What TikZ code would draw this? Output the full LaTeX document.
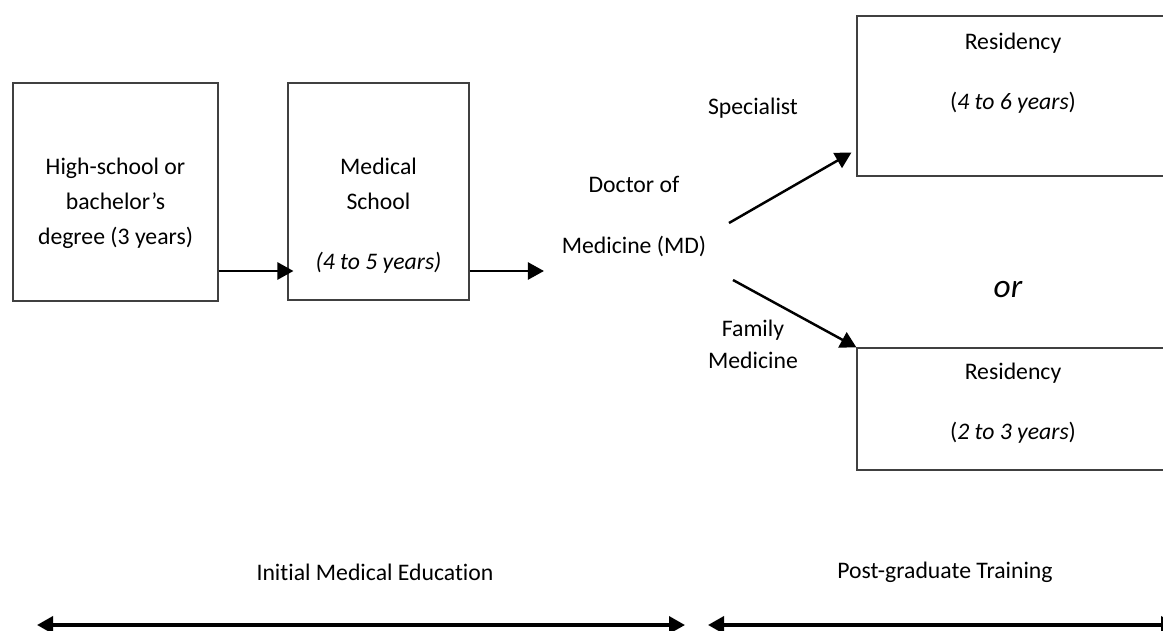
\documentclass[tikz,border=0pt]{standalone}
\usepackage{fontspec}
\setmainfont{Carlito}[Ligatures=NoCommon]
\usetikzlibrary{arrows.meta, positioning}

\begin{document}
\begin{tikzpicture}[
  box/.style={draw=black!75, line width=0.6pt, rectangle, inner sep=0pt},
  txt/.style={align=center, inner sep=0pt, font=\fontsize{13.5}{20}\selectfont},
  arr/.style={line width=1.4pt, -{Triangle[length=0.32cm, width=0.34cm]}},
  span/.style={line width=2pt, {Triangle[length=0.32cm, width=0.34cm]}-{Triangle[length=0.32cm, width=0.34cm]}}
]
\useasboundingbox (0,0) rectangle (23.26,12.6);

% boxes
\node[box, minimum width=4.1cm, minimum height=4.36cm] (hs) at (2.31, 8.76) {};
\node[box, minimum width=3.62cm, minimum height=4.34cm] (med) at (7.57, 8.77) {};
\node[box, minimum width=6.13cm, minimum height=3.2cm] (spec) at (20.205, 10.68) {};
\node[box, minimum width=6.13cm, minimum height=2.44cm] (fam) at (20.205, 4.42) {};

% texts
\node[txt] (hstext) at (2.31, 8.54) {High-school or\\bachelor’s\\degree (3 years)};
\node[txt] (medtext) at (7.57, 8.29) {Medical\\School\\[0.5cm]\textit{(4 to 5 years)}};
\node[txt] (md) at (12.68, 8.27) {Doctor of\\[0.52cm]Medicine (MD)};
\node[txt] (spectext) at (20.26, 11.14) {Residency\\[0.5cm](\textit{4 to 6 years})};
\node[txt] (famtext) at (20.26, 4.54) {Residency\\[0.5cm](\textit{2 to 3 years})};

\node[txt] (speclbl) at (15.06, 10.44) {Specialist};
\node[txt] (famlbl) at (15.06, 5.72) {Family\\[-0.06cm]Medicine};
\node[txt, font=\fontsize{19}{22}\selectfont\itshape] (or) at (20.16, 6.8) {or};

\node[txt] (ime) at (7.5, 1.16) {Initial Medical Education};
\node[txt] (pgt) at (18.9, 1.16) {Post-graduate Training};

% connectors
\coordinate (lvl) at (0, 7.18);
\draw[arr] (hs.east |- lvl) -- ([xshift=0.12cm]med.west |- lvl);
\draw[arr] (med.east |- lvl) -- ([xshift=-0.35cm]md.west |- lvl);
\coordinate (mdup) at (14.58, 8.14);
\coordinate (mddown) at (14.66, 7.0);
\draw[arr] (mdup) -- ([xshift=-0.1cm, yshift=0.48cm]spec.south west);
\draw[arr] (mddown) -- (fam.north west);

% time spans
\coordinate (imeL) at (0.74, 0.1);
\coordinate (imeR) at (13.7, 0.1);
\coordinate (pgtL) at (14.16, 0.1);
\coordinate (pgtR) at (23.54, 0.1);
\draw[span] (imeL) -- (imeR);
\draw[span] (pgtL) -- (pgtR);

\end{tikzpicture}
\end{document}
